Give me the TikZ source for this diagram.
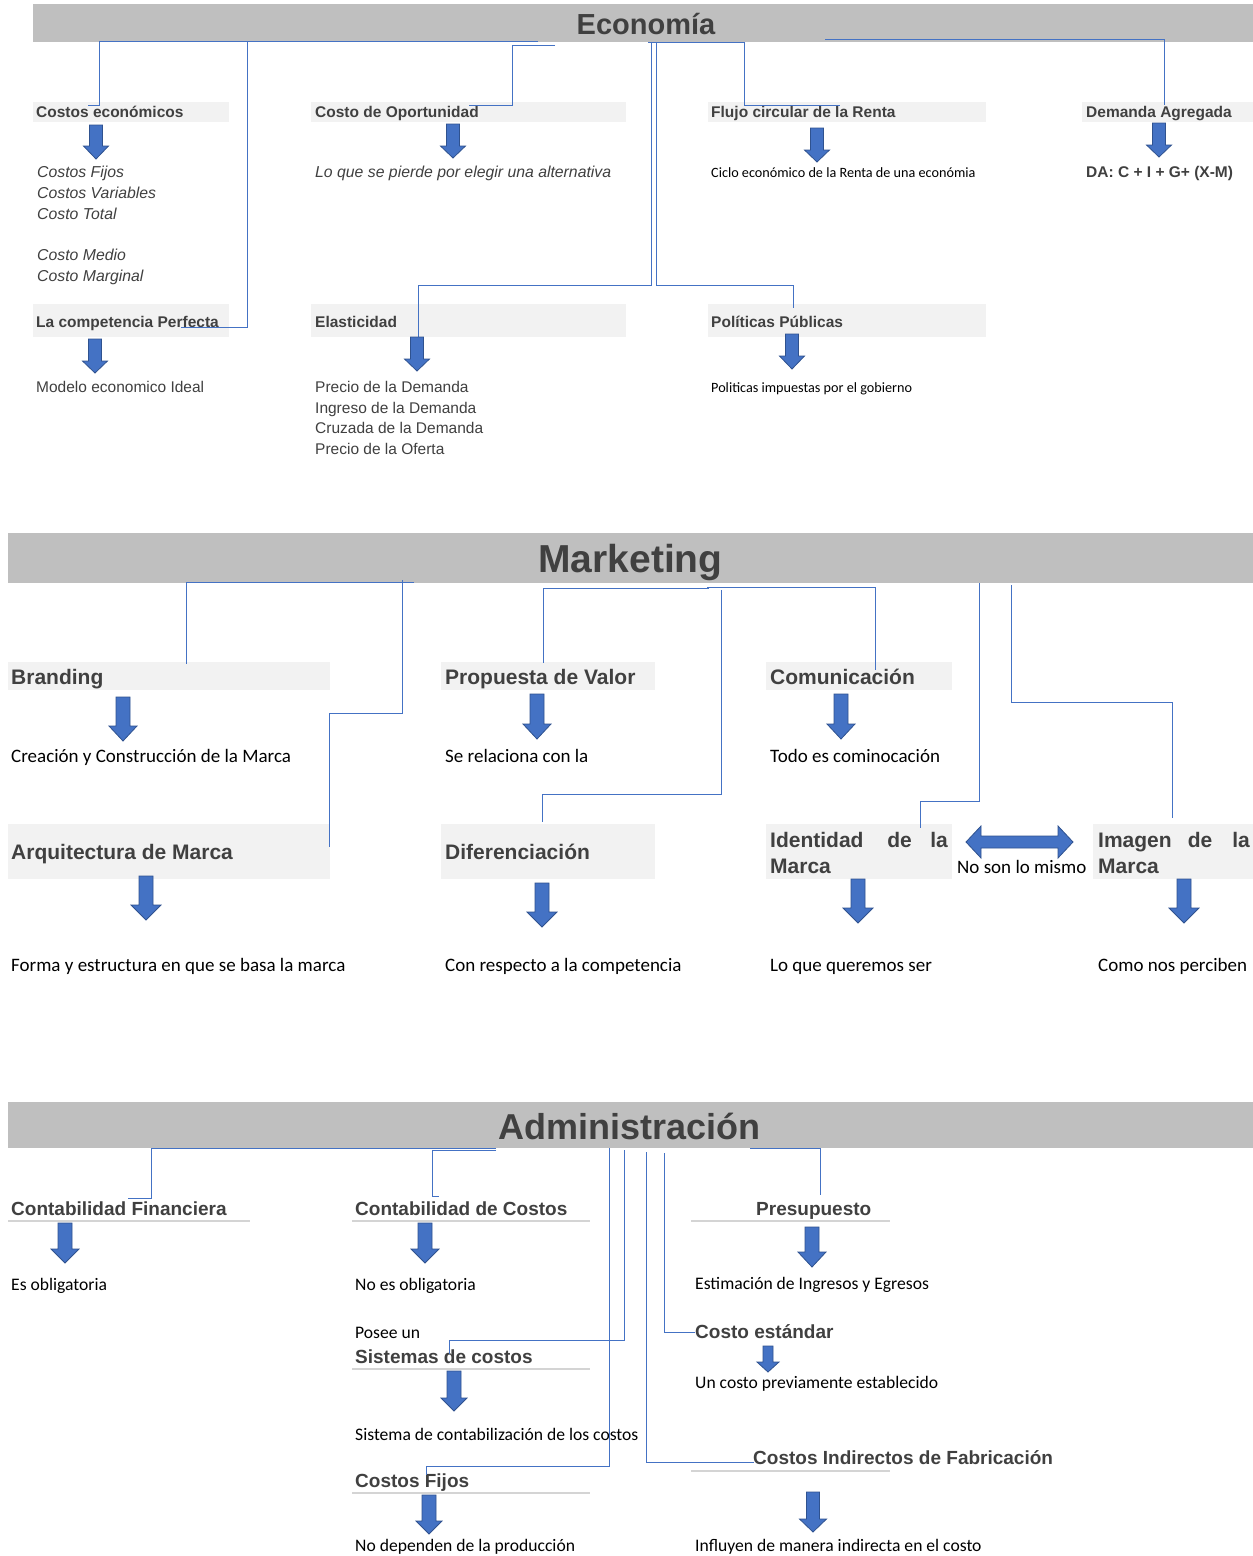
\documentclass[tikz,border=0pt]{standalone}
\usepackage{fontspec}
\setmainfont{Liberation Sans}
\newfontfamily\calibri{Carlito}
\definecolor{barg}{HTML}{BFBFBF}
\definecolor{boxg}{HTML}{F2F2F2}
\definecolor{txt}{HTML}{404040}
\definecolor{lnblue}{HTML}{4472C4}
\definecolor{arrfill}{HTML}{4472C4}
\definecolor{arrdraw}{HTML}{2F528F}
\definecolor{ulg}{HTML}{D4D4D4}
\newcommand\blkarrow[6]{\draw[fill=arrfill,draw=arrdraw,line width=0.8pt,line join=miter] ({#1-#5},#2) -- ({#1+#5},#2) -- ({#1+#5},#3) -- ({#1+#6},#3) -- (#1,#4) -- ({#1-#6},#3) -- ({#1-#5},#3) -- cycle;}
\tikzset{
  conn/.style={draw=lnblue, line width=0.9pt},
  ttlA/.style={anchor=base, inner sep=0, text=txt},
  hdE/.style={anchor=base west, inner sep=0, text=txt, font=\bfseries\fontsize{15.5}{18}\selectfont},
  bdE/.style={anchor=base west, inner sep=0, text=txt, font=\fontsize{15.5}{18}\selectfont},
  itE/.style={anchor=base west, inner sep=0, text=txt, font=\itshape\fontsize{15.8}{18}\selectfont},
  clE/.style={anchor=base west, inner sep=0, text=black, font=\calibri\fontsize{14.2}{17}\selectfont},
  hdM/.style={anchor=base west, inner sep=0, text=txt, font=\bfseries\fontsize{21}{25}\selectfont},
  clM/.style={anchor=base west, inner sep=0, text=black, font=\calibri\fontsize{19}{22}\selectfont},
  clA/.style={anchor=base west, inner sep=0, text=black, font=\calibri\fontsize{17.6}{20}\selectfont},
  hdA/.style={anchor=base west, inner sep=0, text=txt, font=\bfseries\fontsize{19}{23}\selectfont},
  ul/.style={draw=ulg, line width=1.3pt},
}
\begin{document}
\begin{tikzpicture}[x=1pt,y=-1pt]
\useasboundingbox (0,0) rectangle (1253,1556);
\fill[white] (0,0) rectangle (1253,1556);

%% ================= Economía =================
\fill[barg] (33,4) rectangle (1253,42);
\node[ttlA, font=\bfseries\fontsize{29}{34}\selectfont] (eco) at (646,34) {Economía};

\fill[boxg] (33,102) rectangle (229,122);
\fill[boxg] (311,102) rectangle (626,122);
\fill[boxg] (708,102) rectangle (986,122);
\fill[boxg] (1082,102) rectangle (1253,122);
\fill[boxg] (33,304) rectangle (229,337);
\fill[boxg] (311,304) rectangle (626,337);
\fill[boxg] (708,304) rectangle (986,337);

\node[hdE] (ce) at (36,117.5) {Costos económicos};
\node[hdE] (co) at (315,117.5) {Costo de Oportunidad};
\node[hdE] (fc) at (711,117.5) {Flujo circular de la Renta};
\node[hdE] (da) at (1086,117.5) {Demanda Agregada};
\node[hdE] (cp) at (36,327) {La competencia Perfecta};
\node[hdE] (el) at (315,327) {Elasticidad};
\node[hdE] (pp) at (711,327) {Políticas Públicas};

\node[itE] (ce1) at (37,177) {Costos Fijos};
\node[itE] (ce2) at (37,198) {Costos Variables};
\node[itE] (ce3) at (37,219) {Costo Total};
\node[itE] (ce4) at (37,260) {Costo Medio};
\node[itE] (ce5) at (37,281) {Costo Marginal};
\node[itE] (co1) at (315,177) {Lo que se pierde por elegir una alternativa};
\node[clE] (fc1) at (711,177) {Ciclo económico de la Renta de una económia};
\node[hdE] (da1) at (1086,177) {DA: C + I + G+ (X-M)};
\node[bdE] (cp1) at (36,392) {Modelo economico Ideal};
\node[bdE] (el1) at (315,392) {Precio de la Demanda};
\node[bdE] (el2) at (315,413) {Ingreso de la Demanda};
\node[bdE] (el3) at (315,433) {Cruzada de la Demanda};
\node[bdE] (el4) at (315,454) {Precio de la Oferta};
\node[clE] (pp1) at (711,392) {Politicas impuestas por el gobierno};

\draw[conn] (538,41) -- (99,41) -- (99,105) -- (88,105);
\draw[conn] (247,41) -- (247,327) -- (181,327);
\draw[conn] (555,45) -- (512,45) -- (512,105) -- (469,105);
\draw[conn] (648,42) -- (744,42) -- (744,105) -- (840,105);
\draw[conn] (651,42) -- (651,285) -- (418,285) -- (418,338);
\draw[conn] (656,42) -- (656,285) -- (793,285) -- (793,308);
\draw[conn] (825,39) -- (1164,39) -- (1164,105);

\blkarrow{96}{125}{146}{159}{6.5}{12.5}
\blkarrow{453}{124}{146}{158}{6.5}{12.5}
\blkarrow{817}{128}{150}{162}{6.5}{12.5}
\blkarrow{1159}{123}{145}{157}{6.5}{12.5}
\blkarrow{95}{339}{361}{373}{6.5}{12.5}
\blkarrow{417}{337}{359}{371}{6.5}{12.5}
\blkarrow{792}{334}{356}{369}{6.5}{12.5}

%% ================= Marketing =================
\fill[barg] (8,533) rectangle (1253,583);
\node[ttlA, font=\bfseries\fontsize{39}{46}\selectfont] (mkt) at (630.5,572) {Marketing};

\fill[boxg] (8,662) rectangle (330,690);
\fill[boxg] (441,662) rectangle (655,690);
\fill[boxg] (766,662) rectangle (952,690);
\fill[boxg] (8,824) rectangle (330,879);
\fill[boxg] (441,824) rectangle (655,879);
\fill[boxg] (766,824) rectangle (952,879);
\fill[boxg] (1093,824) rectangle (1253,879);

\node[hdM] (br) at (11,684) {Branding};
\node[hdM] (pv) at (445,684) {Propuesta de Valor};
\node[hdM] (cm) at (770,684) {Comunicación};
\node[hdM] (am) at (11,859) {Arquitectura de Marca};
\node[hdM] (df) at (445,859) {Diferenciación};
\node[hdM] (id1) at (770,847) {Identidad};
\node[hdM, anchor=base] (id2) at (899.5,847) {de};
\node[hdM, anchor=base east] (id3) at (948,847) {la};
\node[hdM] (id4) at (770,873) {Marca};
\node[hdM] (im1) at (1098,847) {Imagen};
\node[hdM, anchor=base] (im2) at (1200,847) {de};
\node[hdM, anchor=base east] (im3) at (1250,847) {la};
\node[hdM] (im4) at (1098,873) {Marca};

\node[clM] (br1) at (11,762) {Creación y Construcción de la Marca};
\node[clM] (pv1) at (445,762) {Se relaciona con la};
\node[clM] (cm1) at (770,762) {Todo es cominocación};
\node[clM] (nsm) at (957,873) {No son lo mismo};
\node[clM] (am1) at (11,971) {Forma y estructura en que se basa la marca};
\node[clM] (df1) at (445,971) {Con respecto a la competencia};
\node[clM] (id5) at (770,971) {Lo que queremos ser};
\node[clM] (im5) at (1098,971) {Como nos perciben};

\draw[conn] (414,582) -- (186,582) -- (186,664);
\draw[conn] (402,580) -- (402,713) -- (329,713) -- (329,847);
\draw[conn] (709,588) -- (543,588) -- (543,663);
\draw[conn] (707,587) -- (875,587) -- (875,670);
\draw[conn] (721,590) -- (721,794) -- (542,794) -- (542,822);
\draw[conn] (979,583) -- (979,801) -- (920,801) -- (920,828);
\draw[conn] (1011,585) -- (1011,702) -- (1172,702) -- (1172,818);

\blkarrow{123}{697}{726}{741}{7}{14}
\blkarrow{537}{694}{724}{739}{7}{14}
\blkarrow{841}{694}{724}{739}{7}{14}
\blkarrow{146}{876}{905}{920}{7}{15}
\blkarrow{542}{883}{912}{927}{7}{15}
\blkarrow{858}{879}{908}{923}{7}{15}
\blkarrow{1184}{879}{908}{923}{7}{15}
\draw[fill=arrfill,draw=arrdraw,line width=0.8pt,line join=miter] (966,842) -- (981,826) -- (981,836) -- (1058,836) -- (1058,826) -- (1073,842) -- (1058,858) -- (1058,848) -- (981,848) -- (981,858) -- cycle;

%% ================= Administración =================
\fill[barg] (8,1102) rectangle (1253,1148);
\node[ttlA, font=\bfseries\fontsize{36}{42}\selectfont] (adm) at (629.5,1139) {Administración};

\draw[ul] (8,1221) -- (250,1221);
\draw[ul] (352,1221) -- (590,1221);
\draw[ul] (691,1221) -- (890,1221);
\draw[ul] (352,1369) -- (590,1369);
\draw[ul] (352,1493) -- (590,1493);
\draw[ul] (691,1471) -- (890,1471);

\node[hdA] (cf) at (11,1215) {Contabilidad Financiera};
\node[hdA] (cc) at (355,1215) {Contabilidad de Costos};
\node[hdA] (pr) at (756,1215) {Presupuesto};
\node[hdA] (sc) at (355,1363) {Sistemas de costos};
\node[hdA] (cfj) at (355,1487) {Costos Fijos};
\node[hdA] (ces) at (695,1338) {Costo estándar};
\node[hdA] (cif) at (753,1464) {Costos Indirectos de Fabricación};

\node[clA] (cf1) at (11,1290) {Es obligatoria};
\node[clA] (cc1) at (355,1290) {No es obligatoria};
\node[clA] (pr1) at (695,1289) {Estimación de Ingresos y Egresos};
\node[clA] (psu) at (355,1338) {Posee un};
\node[clA] (sc1) at (355,1440) {Sistema de contabilización de los costos};
\node[clA] (cfj1) at (355,1551) {No dependen de la producción};
\node[clA] (ces1) at (695,1388) {Un costo previamente establecido};
\node[clA] (cif1) at (695,1551) {Influyen de manera indirecta en el costo};

\draw[conn] (496,1148) -- (151,1148) -- (151,1198) -- (128,1198);
\draw[conn] (496,1150) -- (432,1150) -- (432,1196) -- (439,1196);
\draw[conn] (750,1148) -- (820,1148) -- (820,1195);
\draw[conn] (609,1148) -- (609,1466) -- (426,1466) -- (426,1475);
\draw[conn] (624,1150) -- (624,1340) -- (449,1340) -- (449,1354);
\draw[conn] (646,1152) -- (646,1462) -- (754,1462);
\draw[conn] (664,1153) -- (664,1332) -- (695,1332);

\blkarrow{65}{1223}{1249}{1263}{7}{14}
\blkarrow{425}{1223}{1249}{1263}{7}{14}
\blkarrow{812}{1227}{1252}{1267}{7}{14}
\blkarrow{454}{1371}{1398}{1411}{7}{13}
\blkarrow{429}{1495}{1521}{1534}{7}{13}
\blkarrow{768}{1346}{1362}{1372}{5}{11}
\blkarrow{813}{1492}{1519}{1532}{6.5}{13.5}
\end{tikzpicture}
\end{document}
